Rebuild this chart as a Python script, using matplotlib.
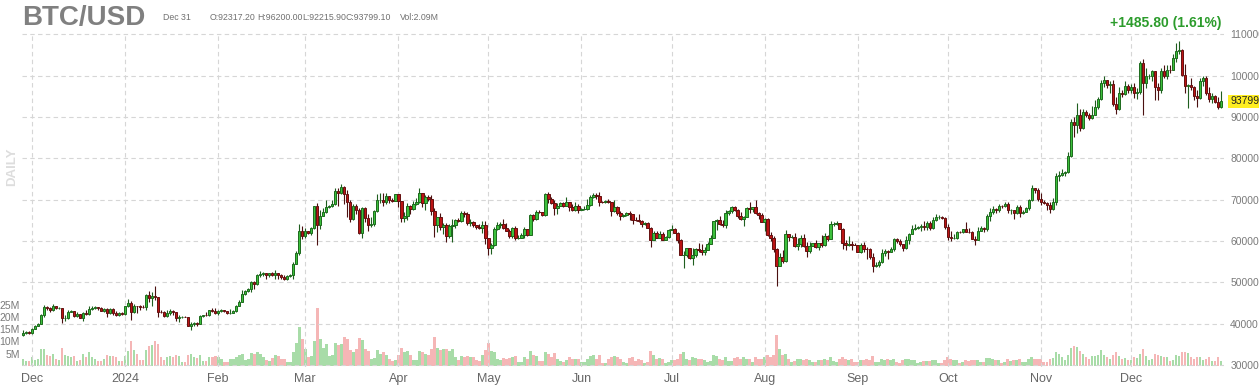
import matplotlib
matplotlib.use("Agg")
import matplotlib.pyplot as plt
import matplotlib.dates as mdates
import numpy as np
import pandas as pd

plt.rcParams['font.family'] = ['Liberation Sans', 'DejaVu Sans']

# daily candles, 2023-11-28 .. 2024-12-31, prices in thousands USD
start_date = '2023-11-28'
first_open = 37.25

close = [
    37.82, 37.85, 37.72,
    # Dec 2023
    38.69, 39.47, 39.98, 41.98, 44.08, 43.77, 43.29, 44.17, 43.72, 43.79, 41.24, 41.45, 42.89, 43.02, 41.93, 42.24,
    41.36, 42.66, 42.26, 43.65, 43.87, 43.99, 43.74, 43.02, 43.61, 42.52, 43.44, 42.63, 42.10, 42.59, 42.28,
    # Jan 2024
    44.18, 44.94, 42.85, 44.18, 44.16, 43.97, 43.93, 46.97, 46.12, 46.63, 46.37, 42.85, 42.84, 41.80, 42.51, 43.15,
    42.74, 41.26, 41.62, 41.66, 41.58, 39.53, 39.88, 40.08, 39.94, 41.82, 42.12, 42.03, 43.30, 42.95, 42.57,
    # Feb
    43.08, 43.19, 43.00, 42.58, 42.66, 43.09, 44.33, 45.30, 47.15, 47.77, 48.29, 49.96, 49.70, 51.80, 51.91, 52.16,
    51.66, 52.12, 51.78, 52.28, 51.84, 51.30, 50.73, 51.57, 51.73, 54.52, 57.09, 62.50, 61.20,
    # Mar
    62.44, 62.03, 63.17, 68.33, 63.80, 66.11, 66.93, 68.30, 68.50, 69.02, 72.12, 71.48, 73.08, 71.40, 69.40, 65.32,
    68.39, 67.55, 61.91, 67.91, 65.49, 63.78, 64.06, 67.23, 69.96, 69.99, 69.46, 70.78, 69.89, 69.65, 71.33,
    # Apr
    69.70, 65.45, 65.98, 68.50, 67.84, 68.90, 69.36, 71.62, 69.14, 70.59, 70.06, 67.19, 63.82, 65.74, 63.42, 63.81,
    61.28, 63.51, 63.84, 64.99, 64.94, 66.84, 66.41, 64.29, 64.50, 63.77, 63.46, 63.12, 63.84, 60.64,
    # May
    58.25, 59.12, 62.89, 63.89, 64.03, 63.16, 62.33, 61.19, 63.05, 60.79, 60.79, 61.45, 62.90, 61.55, 66.27, 65.23,
    67.05, 66.94, 66.28, 71.45, 70.14, 69.12, 67.93, 68.53, 69.26, 68.51, 69.39, 68.30, 67.58, 68.36, 67.49,
    # Jun
    67.71, 67.75, 68.80, 70.57, 71.08, 70.76, 69.34, 69.31, 69.65, 69.50, 67.32, 68.24, 66.75, 66.01, 66.19, 66.64,
    66.49, 65.14, 64.96, 64.83, 64.10, 64.25, 63.18, 60.28, 61.80, 60.81, 61.61, 60.32, 60.89, 62.68,
    # Jul
    62.85, 62.03, 60.17, 56.64, 56.66, 58.23, 55.85, 56.71, 58.05, 57.72, 57.34, 57.90, 59.23, 60.79, 64.87, 65.10,
    64.12, 63.97, 66.71, 67.16, 68.19, 67.55, 65.97, 65.37, 65.78, 67.91, 67.81, 68.26, 66.79, 66.20, 64.62,
    # Aug
    65.36, 61.42, 60.68, 58.12, 53.99, 56.03, 55.03, 61.71, 60.88, 60.94, 58.71, 59.35, 60.61, 58.74, 57.56, 58.87,
    59.49, 58.43, 59.49, 59.01, 61.16, 60.38, 64.09, 64.18, 64.25, 62.83, 59.42, 59.03, 59.36, 59.12, 58.97,
    # Sep
    57.33, 59.11, 57.98, 57.97, 56.16, 53.95, 54.14, 54.84, 57.02, 57.65, 57.34, 58.13, 60.57, 60.00, 59.19, 58.21,
    60.31, 61.76, 62.95, 63.20, 63.35, 63.58, 63.34, 64.26, 63.14, 65.18, 65.79, 65.89, 65.64, 63.33,
    # Oct
    60.84, 60.63, 60.75, 62.09, 62.06, 62.82, 62.22, 62.13, 60.58, 60.27, 62.45, 63.19, 62.85, 66.05, 67.04, 67.61,
    67.37, 68.42, 68.36, 69.00, 67.37, 67.37, 66.68, 68.16, 66.64, 67.01, 67.93, 69.91, 72.72, 72.34, 70.22,
    # Nov
    69.48, 69.29, 68.74, 67.81, 69.37, 75.64, 75.90, 76.55, 76.68, 80.47, 88.70, 87.96, 90.58, 87.25, 91.07, 90.56,
    89.85, 90.46, 92.31, 94.29, 98.12, 98.97, 97.71, 98.01, 93.01, 91.95, 95.86, 95.64, 97.46, 96.41,
    # Dec
    97.19, 95.84, 96.00, 103.00, 98.20, 99.90, 99.92, 101.17, 97.32, 96.61, 101.13, 100.00, 101.44, 101.37, 104.30,
    106.03, 106.14, 100.04, 97.49, 97.76, 97.22, 95.10, 94.69, 98.68, 99.43, 95.79, 94.30, 95.16, 93.53, 92.3172, 93.7991,
]

high = [
    38.37, 38.17, 38.15,
    38.95, 39.68, 40.20, 42.40, 44.40, 44.25, 44.00, 44.70, 44.05, 44.00, 43.80, 42.00, 43.40, 43.40, 43.10, 42.70,
    42.40, 42.70, 43.30, 44.20, 44.30, 44.30, 44.00, 43.90, 43.80, 43.70, 43.70, 43.80, 43.10, 42.90, 42.85,
    44.20, 45.90, 45.50, 44.80, 44.35, 44.50, 44.50, 47.20, 47.90, 47.70, 49.00, 46.50, 43.20, 43.10, 43.40, 43.60,
    43.20, 42.90, 42.20, 41.90, 41.90, 41.70, 40.50, 40.50, 40.30, 42.20, 42.20, 42.80, 43.30, 43.85, 43.70,
    43.30, 43.45, 43.40, 43.10, 43.50, 43.40, 44.40, 45.60, 48.20, 48.10, 48.50, 50.30, 50.30, 52.00, 52.80, 52.50,
    52.15, 52.30, 52.50, 52.95, 52.30, 52.00, 51.70, 51.70, 52.00, 54.90, 57.50, 64.00, 63.60,
    63.10, 62.50, 63.25, 68.50, 69.10, 67.60, 68.00, 69.90, 68.70, 69.90, 72.80, 72.90, 73.70, 73.40, 72.40, 70.00,
    68.90, 68.90, 68.00, 68.10, 68.20, 66.60, 65.90, 67.60, 71.40, 71.50, 71.70, 71.50, 70.90, 70.30, 71.40,
    71.40, 69.70, 66.90, 69.20, 68.70, 69.70, 70.30, 72.70, 71.70, 71.00, 71.20, 71.20, 67.90, 65.80, 66.80, 64.30,
    64.40, 64.10, 65.40, 65.40, 65.50, 67.20, 67.20, 67.00, 65.20, 64.80, 63.90, 64.00, 64.70, 64.70,
    60.80, 59.60, 63.30, 64.50, 64.60, 65.40, 64.30, 62.90, 63.40, 63.50, 61.40, 61.80, 63.40, 63.00, 66.40, 66.60,
    67.40, 67.40, 67.00, 71.50, 71.90, 70.60, 70.00, 69.20, 69.50, 69.50, 70.60, 69.50, 68.90, 69.50, 69.00,
    67.90, 68.40, 70.20, 71.00, 71.70, 71.60, 71.90, 69.60, 69.90, 70.20, 69.50, 70.00, 68.40, 67.30, 66.40, 66.90,
    67.30, 66.60, 65.70, 66.40, 65.00, 64.50, 64.50, 63.40, 62.30, 62.40, 62.30, 62.20, 61.20, 63.00,
    63.80, 63.20, 62.20, 60.50, 57.50, 58.40, 58.20, 58.20, 58.30, 59.40, 59.30, 58.50, 59.80, 61.40, 64.90, 65.40,
    66.00, 65.10, 67.40, 67.60, 68.40, 68.50, 67.80, 67.10, 66.10, 68.20, 69.30, 68.30, 70.00, 66.90, 66.80,
    65.60, 65.60, 62.20, 61.10, 58.30, 57.00, 57.70, 62.60, 61.70, 61.40, 61.80, 60.70, 61.50, 61.60, 59.80, 59.80,
    59.60, 60.20, 59.60, 61.40, 61.80, 61.40, 64.90, 64.50, 64.90, 64.40, 63.20, 60.20, 61.10, 60.10, 59.40,
    59.00, 59.40, 59.80, 58.50, 58.30, 57.00, 54.80, 55.30, 58.00, 58.00, 57.90, 58.60, 60.60, 60.60, 60.40, 59.20,
    61.30, 61.80, 63.80, 64.00, 63.60, 64.00, 64.70, 64.80, 64.70, 65.80, 66.50, 66.20, 66.10, 65.70,
    64.10, 62.40, 61.70, 62.40, 62.40, 62.90, 64.50, 63.20, 62.50, 61.30, 63.40, 63.50, 63.30, 66.50, 67.90, 68.40,
    68.00, 68.90, 68.70, 69.40, 69.50, 67.80, 67.50, 68.80, 68.80, 67.40, 68.30, 70.20, 73.60, 72.90, 72.70,
    71.60, 70.00, 69.40, 69.50, 70.50, 76.40, 76.80, 77.30, 76.90, 81.50, 89.60, 89.90, 93.40, 91.80, 91.80, 91.70,
    91.00, 92.60, 94.00, 94.90, 98.90, 99.80, 98.80, 98.70, 98.90, 94.70, 97.20, 96.60, 98.70, 97.90,
    98.00, 98.10, 96.90, 103.50, 103.90, 101.90, 100.50, 101.40, 101.20, 98.20, 101.90, 102.50, 102.50, 102.60, 105.10,
    107.80, 108.30, 106.50, 102.80, 98.00, 99.50, 97.40, 96.40, 99.40, 99.90, 99.90, 97.30, 95.70, 95.20, 94.90, 96.20,
]

low = [
    36.88, 37.60, 37.50,
    37.60, 38.60, 39.30, 39.90, 41.50, 43.40, 42.80, 43.10, 43.50, 43.50, 40.20, 40.70, 41.20, 42.80, 41.70, 41.70,
    41.30, 40.60, 42.10, 42.20, 43.40, 43.60, 43.30, 43.00, 42.80, 41.60, 42.40, 42.10, 41.80, 41.90, 42.10,
    42.20, 44.10, 40.75, 42.60, 42.60, 43.40, 43.80, 43.20, 45.30, 44.30, 45.60, 41.60, 42.50, 41.70, 41.70, 42.10,
    42.20, 40.70, 40.30, 41.40, 41.50, 39.45, 38.55, 39.50, 39.50, 39.80, 41.70, 41.80, 41.80, 42.70, 42.30,
    42.00, 42.80, 42.90, 42.30, 42.30, 42.60, 42.80, 44.30, 45.20, 46.90, 47.60, 47.70, 48.40, 49.30, 51.30, 51.60,
    50.70, 51.20, 51.40, 50.70, 50.80, 50.90, 50.50, 50.60, 51.30, 50.90, 54.40, 56.70, 60.40,
    60.80, 61.70, 61.40, 62.90, 59.10, 63.00, 66.10, 66.80, 68.00, 68.20, 68.80, 68.50, 71.30, 68.90, 65.80, 64.60,
    65.00, 66.60, 61.60, 60.80, 64.60, 62.30, 63.40, 63.60, 66.90, 69.20, 68.40, 68.90, 69.10, 69.50, 69.60,
    68.20, 64.50, 64.50, 65.10, 66.40, 67.50, 68.80, 69.10, 68.20, 67.50, 69.60, 66.20, 60.90, 62.20, 62.60, 61.70,
    59.80, 60.80, 59.70, 63.10, 64.50, 64.50, 65.90, 63.80, 63.70, 63.30, 62.80, 62.80, 61.80, 59.30,
    56.60, 56.90, 58.80, 62.60, 63.20, 63.00, 62.30, 60.70, 60.60, 60.30, 60.50, 60.70, 60.80, 61.20, 61.40, 64.80,
    65.00, 66.70, 66.10, 66.10, 69.20, 68.90, 66.30, 66.60, 68.50, 68.30, 68.50, 67.30, 67.20, 67.20, 66.70,
    67.40, 67.40, 67.60, 68.50, 70.40, 70.20, 68.50, 69.20, 69.20, 69.20, 66.10, 66.90, 66.30, 65.10, 65.90, 66.00,
    65.00, 64.10, 64.70, 64.50, 63.40, 63.90, 63.20, 58.50, 60.70, 60.70, 60.60, 60.20, 60.40, 60.70,
    62.60, 61.90, 59.40, 56.80, 53.50, 56.00, 55.70, 54.20, 56.20, 57.20, 56.60, 56.50, 57.80, 59.20, 60.70, 62.70,
    63.90, 63.30, 63.20, 66.30, 66.70, 67.20, 65.50, 65.10, 63.50, 65.80, 66.70, 67.00, 66.60, 65.40, 64.50,
    62.30, 61.20, 59.90, 57.20, 49.10, 53.90, 54.60, 54.80, 60.00, 60.80, 58.50, 57.70, 58.50, 58.50, 56.10, 57.10,
    58.80, 58.40, 57.90, 58.50, 58.80, 60.00, 60.40, 63.60, 63.80, 62.80, 58.10, 57.90, 58.80, 57.80, 58.90,
    57.20, 57.10, 57.40, 55.60, 55.60, 52.60, 53.70, 53.70, 54.60, 56.40, 55.60, 57.40, 57.60, 59.50, 58.70, 57.50,
    58.00, 59.20, 61.70, 62.70, 62.90, 62.40, 62.70, 62.70, 62.70, 62.80, 64.80, 65.40, 65.40, 62.90,
    60.20, 60.00, 60.40, 60.50, 61.80, 61.80, 62.10, 61.90, 60.40, 58.90, 60.40, 62.40, 62.10, 62.50, 64.90, 66.60,
    66.70, 67.10, 68.00, 68.10, 66.80, 66.60, 65.20, 66.50, 65.70, 66.50, 66.90, 67.40, 69.70, 71.50, 69.70,
    68.80, 69.00, 67.50, 66.80, 67.50, 68.80, 74.60, 75.70, 75.80, 76.50, 80.20, 85.10, 86.20, 86.60, 87.00, 90.00,
    89.20, 89.40, 90.40, 91.80, 94.00, 97.20, 97.10, 95.80, 92.70, 90.80, 91.70, 94.70, 95.40, 95.70,
    95.90, 94.50, 94.30, 95.50, 90.50, 97.00, 99.10, 98.80, 94.20, 94.20, 95.70, 99.30, 99.20, 100.70, 101.30,
    103.30, 105.30, 100.00, 95.70, 92.20, 96.40, 94.20, 92.50, 94.30, 97.50, 95.20, 93.50, 93.40, 93.30, 91.90, 92.2159,
]

# volume, millions
volume = [
    3.0, 2.2, 2.0,
    3.5, 2.5, 2.8, 6.8, 7.0, 4.5, 4.0, 4.8, 3.0, 2.5, 7.5, 4.5, 4.0, 3.5, 4.2, 2.0, 2.5, 4.8, 3.8, 5.5, 3.6, 3.0,
    2.0, 2.2, 2.8, 4.5, 4.0, 4.2, 3.5, 2.0, 2.2,
    4.0, 6.0, 10.0, 6.5, 5.0, 2.5, 2.5, 6.5, 8.0, 8.5, 10.0, 9.0, 3.5, 2.5, 3.8, 4.0, 3.5, 4.5, 4.2, 1.8, 1.8, 4.5,
    5.0, 3.8, 3.2, 4.5, 2.2, 2.0, 3.5, 3.8, 4.0,
    3.5, 3.0, 1.5, 1.8, 3.0, 3.0, 3.5, 4.5, 5.0, 2.5, 2.8, 5.2, 5.0, 5.5, 4.8, 3.8, 2.5, 2.2, 3.2, 4.5, 4.0, 3.0,
    2.8, 1.8, 1.6, 5.5, 9.5, 16.0, 11.0,
    7.0, 3.5, 4.0, 10.0, 23.5, 11.0, 7.5, 9.0, 4.0, 4.5, 9.5, 8.5, 9.0, 12.0, 11.0, 6.5, 5.5, 7.0, 11.5, 10.5, 7.0,
    6.0, 3.0, 3.2, 6.5, 5.0, 5.5, 4.5, 3.0, 2.0, 2.5,
    4.5, 7.5, 5.5, 6.0, 4.5, 2.5, 2.5, 6.0, 5.5, 5.0, 4.5, 7.0, 12.0, 7.5, 6.5, 7.0, 7.0, 6.0, 7.0, 3.5, 2.5, 4.0,
    3.8, 4.0, 3.8, 3.5, 2.5, 2.0, 4.5, 6.5,
    9.5, 6.0, 5.5, 3.0, 2.5, 3.2, 3.0, 3.2, 3.5, 4.0, 1.8, 1.8, 3.5, 3.0, 6.0, 4.5, 4.0, 2.2, 2.0, 5.5, 5.0, 3.5,
    5.2, 3.0, 2.0, 1.8, 2.5, 3.5, 3.0, 2.8, 3.0,
    1.5, 1.6, 3.0, 4.0, 4.5, 2.8, 4.5, 1.4, 1.3, 3.0, 3.8, 4.0, 3.5, 3.0, 1.5, 1.4, 3.2, 3.5, 2.2, 2.8, 2.6, 1.2,
    1.5, 6.0, 4.5, 3.0, 3.2, 2.8, 1.4, 1.6,
    2.5, 2.6, 3.0, 5.0, 5.5, 2.8, 2.5, 3.8, 3.2, 3.0, 3.0, 2.5, 1.8, 2.2, 4.5, 4.2, 3.0, 2.6, 3.5, 2.0, 2.2, 3.2,
    3.5, 2.8, 3.5, 3.0, 2.8, 1.8, 3.5, 2.8, 3.0,
    3.5, 4.5, 3.5, 4.5, 12.5, 7.0, 4.5, 5.0, 3.0, 1.8, 2.0, 3.0, 2.8, 2.5, 3.0, 2.5, 1.5, 1.8, 2.5, 2.5, 3.0, 2.5,
    3.8, 2.0, 1.8, 2.8, 3.5, 3.0, 2.5, 2.8, 1.5,
    1.8, 2.5, 2.5, 2.8, 2.6, 4.0, 1.8, 1.6, 2.8, 2.5, 2.8, 2.4, 2.8, 1.5, 1.4, 2.6, 2.8, 3.0, 2.6, 2.5, 1.4, 1.5,
    2.0, 2.2, 2.0, 2.4, 2.5, 1.3, 1.4, 2.6,
    3.5, 2.8, 2.5, 2.4, 1.4, 1.5, 2.5, 2.2, 2.3, 2.5, 2.6, 1.5, 1.6, 3.2, 3.2, 3.0, 2.5, 2.5, 1.3, 1.6, 2.8, 2.2,
    2.5, 2.4, 3.0, 1.6, 1.5, 3.0, 3.8, 2.8, 3.0,
    3.0, 1.6, 1.8, 3.0, 3.2, 5.5, 4.8, 3.5, 2.5, 4.5, 7.5, 8.0, 7.8, 6.0, 5.0, 3.5, 3.0, 4.0, 4.0, 4.5, 6.5, 4.5,
    3.5, 3.0, 4.5, 5.5, 4.0, 3.0, 3.2, 2.5,
    2.5, 3.5, 3.2, 5.0, 7.0, 4.0, 2.5, 2.8, 5.0, 4.5, 4.0, 3.5, 3.5, 2.2, 2.5, 4.5, 4.0, 5.5, 5.5, 5.2, 3.5, 2.8,
    3.5, 3.5, 2.5, 2.8, 3.5, 2.0, 2.0, 3.5, 2.09,
]

month_starts = ['2023-12-01', '2024-01-01', '2024-02-01', '2024-03-01', '2024-04-01', '2024-05-01', '2024-06-01',
                '2024-07-01', '2024-08-01', '2024-09-01', '2024-10-01', '2024-11-01', '2024-12-01']
month_labels = ['Dec', '2024', 'Feb', 'Mar', 'Apr', 'May', 'Jun', 'Jul', 'Aug', 'Sep', 'Oct', 'Nov', 'Dec']
price_ticks = [30000, 40000, 50000, 60000, 70000, 80000, 90000, 100000, 110000]
vol_ticks = [5, 10, 15, 20, 25]
vol_labels = ['5M', '10M', '15M', '20M', '25M']

# header quote for the last bar
last_open, last_high, last_low, last_close = 92317.20, 96200.00, 92215.90, 93799.10
change, change_pct = 1485.80, 1.61

dates = pd.date_range(start_date, periods=len(close), freq='D')
x = mdates.date2num(dates)
c = np.array(close) * 1000
h = np.array(high) * 1000
l = np.array(low) * 1000
o = np.concatenate([[first_open * 1000], c[:-1]])
up = c >= o

W, H = 1259, 390
fig = plt.figure(figsize=(W / 100, H / 100), dpi=100)
L, R, T, B = 22, 1224, 33, 367
axv = fig.add_axes([L / W, 1 - B / H, (R - L) / W, (B - T) / H])
ax = axv.twinx()

grey = '#7a7a7a'
grid_kw = dict(color='#d6d6d6', lw=0.8, ls=(0, (4, 3)))

# volume
vcol = np.where(up, '#a8dca8', '#f5b6b6')
axv.bar(x, volume, width=0.9, color=vcol, linewidth=0, zorder=2)
axv.set_ylim(-0.4, 135.4)
axv.set_yticks(vol_ticks)
axv.set_yticklabels(vol_labels)
axv.tick_params(axis='y', length=0, pad=1.5, labelsize=7.5, labelcolor=grey)

# price grid + candles
for p in price_ticks:
    ax.axhline(p, zorder=0, **grid_kw)
for m in mdates.date2num(pd.to_datetime(month_starts)):
    ax.axvline(m, zorder=0, **grid_kw)

ax.vlines(x, l, h, color=np.where(up, '#1f5e1f', '#4a1010'), lw=0.8, zorder=3)
body_lo = np.minimum(o, c)
body_h = np.abs(c - o)
ax.bar(x, body_h, bottom=body_lo, width=0.8, color=np.where(up, '#3cc03c', '#bb1414'),
       edgecolor=np.where(up, '#1d6a1d', '#641010'), linewidth=0.7, zorder=4)

ax.set_ylim(29500, 110300)
ax.set_yticks(price_ticks)
ax.set_yticklabels([str(p) for p in price_ticks])
ax.tick_params(axis='y', length=0, pad=4.5, labelsize=7.5, labelcolor=grey)

ax.set_xlim(mdates.date2num(pd.Timestamp('2023-12-01')) - 3.33, x[-1] + 1.0)
axv.set_xticks(mdates.date2num(pd.to_datetime(month_starts)))
axv.set_xticklabels(month_labels)
axv.tick_params(axis='x', length=0, pad=4, labelsize=9, labelcolor='#666666')

for a in (ax, axv):
    for s in a.spines.values():
        s.set_visible(False)

# last price marker
ax.text(1.005, last_close, '%d' % int(last_close), transform=ax.get_yaxis_transform(), fontsize=7.5,
        va='center', ha='left', color='#222222',
        bbox=dict(boxstyle='square,pad=0.15', fc='#ffee22', ec='none'), zorder=10, clip_on=False)

# header
fig.text(22 / W, 1 - 25 / H, 'BTC/USD', fontsize=20, fontweight='bold', color='#808080', va='baseline')
last = dates[-1]
fields = [(163, last.strftime('%b %d').replace(' 0', ' ')),
          (210, 'O:%.2f' % last_open), (257, 'H:%.2f' % last_high), (302, 'L:%.2f' % last_low),
          (346, 'C:%.2f' % last_close), (400, 'Vol:%.2fM' % volume[-1])]
for px, s in fields:
    fig.text(px / W, 1 - 20 / H, s, fontsize=6.3, color='#707070', va='baseline')
fig.text(1222 / W, 1 - 27 / H, '%+.2f (%.2f%%)' % (change, change_pct), fontsize=10,
         fontweight='bold', color='#2c9c2c', ha='right', va='baseline')
fig.text(12 / W, 1 - 167 / H, 'DAILY', rotation=90, fontsize=9.5, fontweight='bold', color='#dddddd',
         ha='center', va='center')

fig.savefig('out.png', dpi=100)
